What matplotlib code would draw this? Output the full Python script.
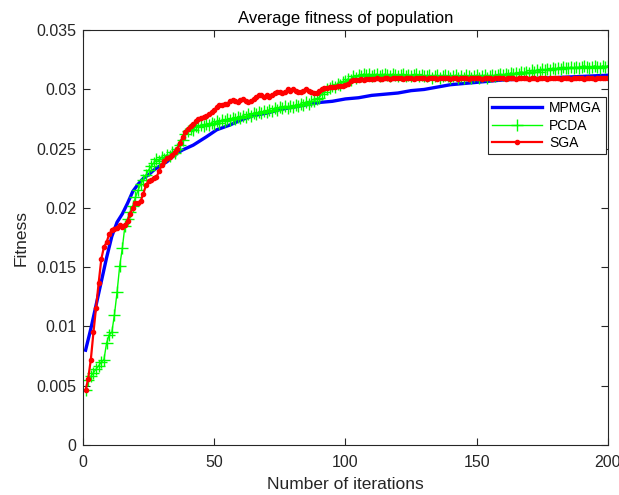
import numpy as np
import matplotlib
matplotlib.use("Agg")
import matplotlib.pyplot as plt

plt.rcParams['font.family'] = ['Liberation Sans', 'DejaVu Sans']

# MPMGA (plain line, read at selected iterations)
mpmga_iter = [1, 3, 5, 7, 9, 11, 13, 15, 17, 19, 21, 23, 25, 27, 29, 32, 35, 38, 42, 47,
              51, 56, 60, 65, 70, 75, 80, 85, 90, 95, 100, 105, 110, 115, 120, 125, 130,
              135, 140, 145, 150, 160, 170, 180, 190, 200]
mpmga = [0.0080, 0.0098, 0.0118, 0.0138, 0.0158, 0.0176, 0.0188, 0.0195, 0.0204, 0.0214,
         0.0220, 0.0225, 0.0228, 0.0232, 0.0235, 0.0239, 0.0245, 0.0249, 0.0253, 0.0260,
         0.0266, 0.0270, 0.0274, 0.0278, 0.0280, 0.0283, 0.0285, 0.0287, 0.0289, 0.0290,
         0.0292, 0.0293, 0.0295, 0.0296, 0.0297, 0.0299, 0.0300, 0.0302, 0.0304, 0.0305,
         0.0306, 0.0308, 0.0309, 0.0310, 0.0311, 0.0312]

# PCDA, one value per iteration 1..200
pcda = [
    0.0046, 0.0055, 0.0058, 0.0061, 0.0064, 0.0067, 0.0070, 0.0072, 0.0086, 0.0093,
    0.0095, 0.0110, 0.0129, 0.0151, 0.0166, 0.0185, 0.0191, 0.0197, 0.0202, 0.0209,
    0.0215, 0.0220, 0.0224, 0.0228, 0.0232, 0.0235, 0.0238, 0.0241, 0.0240, 0.0243,
    0.0241, 0.0245, 0.0244, 0.0247, 0.0246, 0.0250, 0.0253, 0.0257, 0.0262, 0.0265,
    0.0267, 0.0266, 0.0269, 0.0268, 0.0270, 0.0269, 0.0271, 0.0270, 0.0272, 0.0271,
    0.0273, 0.0272, 0.0274, 0.0273, 0.0275, 0.0274, 0.0276, 0.0275, 0.0277, 0.0276,
    0.0278, 0.0277, 0.0279, 0.0278, 0.0280, 0.0279, 0.0281, 0.0280, 0.0282, 0.0281,
    0.0283, 0.0282, 0.0284, 0.0283, 0.0285, 0.0284, 0.0286, 0.0284, 0.0286, 0.0285,
    0.0287, 0.0286, 0.0288, 0.0287, 0.0289, 0.0288, 0.0290, 0.0290, 0.0292, 0.0293,
    0.0296, 0.0298, 0.0300, 0.0301, 0.0303, 0.0302, 0.0305, 0.0304, 0.0306, 0.0307,
    0.0309, 0.0308, 0.0311, 0.0310, 0.0312, 0.0311, 0.0313, 0.0312, 0.0313, 0.0311,
    0.0312, 0.0313, 0.0311, 0.0312, 0.0313, 0.0312, 0.0311, 0.0313, 0.0312, 0.0311,
    0.0312, 0.0313, 0.0311, 0.0312, 0.0311, 0.0312, 0.0313, 0.0311, 0.0312, 0.0311,
    0.0311, 0.0312, 0.0310, 0.0311, 0.0312, 0.0310, 0.0311, 0.0312, 0.0311, 0.0310,
    0.0311, 0.0312, 0.0310, 0.0311, 0.0310, 0.0312, 0.0311, 0.0310, 0.0311, 0.0312,
    0.0310, 0.0311, 0.0312, 0.0310, 0.0311, 0.0312, 0.0311, 0.0312, 0.0313, 0.0312,
    0.0313, 0.0312, 0.0314, 0.0313, 0.0314, 0.0313, 0.0315, 0.0314, 0.0315, 0.0314,
    0.0316, 0.0315, 0.0316, 0.0315, 0.0317, 0.0316, 0.0317, 0.0316, 0.0318, 0.0317,
    0.0318, 0.0317, 0.0319, 0.0318, 0.0318, 0.0319, 0.0318, 0.0319, 0.0318, 0.0319,
    0.0320, 0.0319, 0.0318, 0.0319, 0.0320, 0.0319, 0.0318, 0.0320, 0.0319, 0.0320,
]

# SGA, one value per iteration 1..200
sga = [
    0.0046, 0.0056, 0.0072, 0.0095, 0.0116, 0.0137, 0.0157, 0.0167, 0.0171, 0.0178,
    0.0181, 0.0182, 0.0183, 0.0186, 0.0184, 0.0186, 0.0189, 0.0195, 0.0200, 0.0204,
    0.0204, 0.0206, 0.0212, 0.0219, 0.0223, 0.0224, 0.0225, 0.0226, 0.0231, 0.0236,
    0.0240, 0.0242, 0.0243, 0.0245, 0.0247, 0.0250, 0.0255, 0.0260, 0.0264, 0.0267,
    0.0269, 0.0271, 0.0273, 0.0275, 0.0276, 0.0277, 0.0278, 0.0279, 0.0281, 0.0283,
    0.0285, 0.0287, 0.0287, 0.0288, 0.0288, 0.0290, 0.0291, 0.0290, 0.0289, 0.0291,
    0.0292, 0.0290, 0.0289, 0.0290, 0.0292, 0.0294, 0.0295, 0.0295, 0.0294, 0.0295,
    0.0294, 0.0295, 0.0297, 0.0298, 0.0298, 0.0297, 0.0298, 0.0300, 0.0299, 0.0300,
    0.0299, 0.0298, 0.0298, 0.0299, 0.0300, 0.0299, 0.0298, 0.0297, 0.0297, 0.0299,
    0.0300, 0.0301, 0.0301, 0.0302, 0.0302, 0.0302, 0.0303, 0.0303, 0.0303, 0.0304,
    0.0305, 0.0307, 0.0308, 0.0308, 0.0308, 0.0309, 0.0308, 0.0309, 0.0309, 0.0309,
    0.0309, 0.0310, 0.0309, 0.0309, 0.0310, 0.0310, 0.0309, 0.0310, 0.0310, 0.0310,
    0.0310, 0.0309, 0.0310, 0.0310, 0.0310, 0.0309, 0.0310, 0.0310, 0.0310, 0.0310,
    0.0309, 0.0310, 0.0310, 0.0310, 0.0309, 0.0310, 0.0310, 0.0310, 0.0310, 0.0309,
    0.0310, 0.0310, 0.0309, 0.0310, 0.0310, 0.0310, 0.0309, 0.0310, 0.0310, 0.0310,
    0.0310, 0.0309, 0.0310, 0.0310, 0.0310, 0.0309, 0.0310, 0.0310, 0.0310, 0.0310,
    0.0309, 0.0310, 0.0310, 0.0310, 0.0309, 0.0310, 0.0310, 0.0310, 0.0310, 0.0309,
    0.0310, 0.0310, 0.0309, 0.0310, 0.0310, 0.0310, 0.0309, 0.0310, 0.0310, 0.0310,
    0.0310, 0.0309, 0.0310, 0.0310, 0.0310, 0.0309, 0.0310, 0.0310, 0.0310, 0.0310,
    0.0309, 0.0310, 0.0310, 0.0310, 0.0309, 0.0310, 0.0310, 0.0310, 0.0310, 0.0310,
]

iters = np.arange(1, len(sga) + 1)

x_ticks = [0, 50, 100, 150, 200]
y_ticks = [0, 0.005, 0.01, 0.015, 0.02, 0.025, 0.03, 0.035]
y_tick_labels = ['0', '0.005', '0.01', '0.015', '0.02', '0.025', '0.03', '0.035']

fig = plt.figure(figsize=(6.19, 4.95), dpi=100)
ax = fig.add_axes([0.134, 0.101, 0.848, 0.838])

ax.plot(mpmga_iter, mpmga, color='#0000ff', linewidth=2.4, label='MPMGA')
ax.plot(iters, pcda, color='#00ff00', linewidth=1.0, marker='+', markersize=8,
        markeredgewidth=1.0, label='PCDA')
ax.plot(iters, sga, color='#ff0000', linewidth=1.6, marker='.', markersize=6, label='SGA')

ax.set_xlim(0, 200)
ax.set_ylim(0, 0.035)
ax.set_xticks(x_ticks)
ax.set_yticks(y_ticks)
ax.set_yticklabels(y_tick_labels)

grey = '#262626'
for s in ax.spines.values():
    s.set_color(grey)
    s.set_linewidth(0.8)
ax.tick_params(direction='in', length=5, width=0.8, top=True, right=True,
               colors=grey, labelsize=11.5, pad=5)
ax.tick_params(axis='x', pad=7)

ax.set_title('Average fitness of population', fontsize=12, color='black', pad=5)
ax.set_xlabel('Number of iterations', fontsize=12.5, color=grey, labelpad=5)
ax.set_ylabel('Fitness', fontsize=12.5, color=grey, labelpad=5)

leg = ax.legend(loc='upper right', bbox_to_anchor=(0.996, 0.839), fontsize=10,
                handlelength=3.6, numpoints=1, fancybox=False, framealpha=1,
                borderpad=0.3, labelspacing=0.25, handletextpad=0.5, borderaxespad=0)
leg.get_frame().set_edgecolor(grey)
leg.get_frame().set_linewidth(0.8)

fig.savefig('out.png', dpi=100)
